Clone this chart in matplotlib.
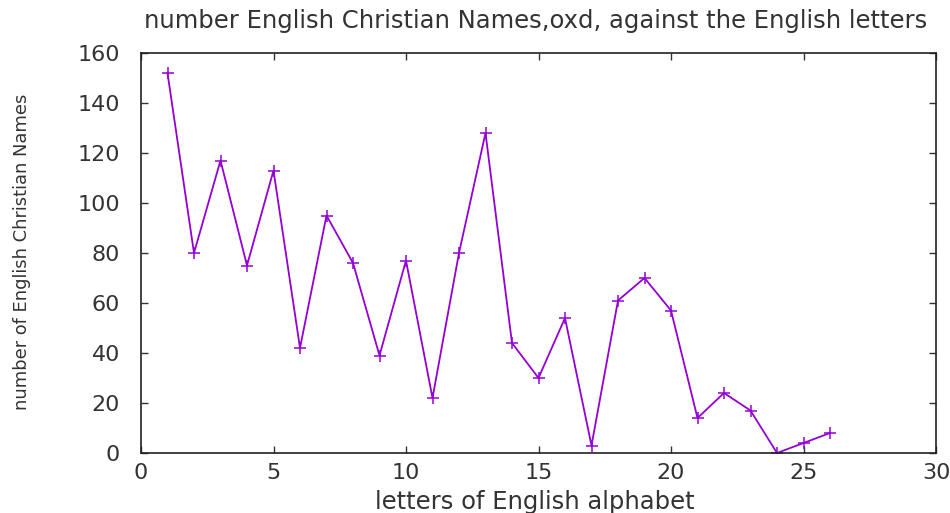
import matplotlib
matplotlib.use("Agg")
import matplotlib.pyplot as plt

letters = list(range(1, 27))
counts = [152, 80, 117, 75, 113, 42, 95, 76, 39, 77, 22, 80, 128,
          44, 30, 54, 3, 61, 70, 57, 14, 24, 17, 0, 4, 8]
x_ticks = [0, 5, 10, 15, 20, 25, 30]
y_ticks = [0, 20, 40, 60, 80, 100, 120, 140, 160]
title = "number English Christian Names,oxd, against the English letters"
xlabel = "letters of English alphabet"
ylabel = "number of English Christian Names"

plt.rcParams['font.family'] = ['DejaVu Sans']
fig = plt.figure(figsize=(9.5, 5.13), dpi=100)
ax = fig.add_axes([141/950, 60/513, (936-141)/950, (453-53)/513])

ax.plot(letters, counts, color='#9400d3', lw=1.3, marker='+', ms=8, mew=1.1)

ax.set_xlim(0, 30)
ax.set_ylim(0, 160)
ax.set_xticks(x_ticks)
ax.set_yticks(y_ticks)
ax.tick_params(direction='in', length=5, width=1, top=True, right=True,
               labelsize=16, colors='#333333')
ax.tick_params(axis='y', pad=15)
ax.tick_params(axis='x', pad=7)
for s in ax.spines.values():
    s.set_linewidth(1.2)
    s.set_color('#222222')

fig.text(0.5 * (137 + 935) / 950, 1 - 21/513, title, ha='center', va='center',
         fontsize=17.5, color='#333333')
fig.text((373 + 697) / 2 / 950, 1 - 502/513, xlabel, ha='center', va='center',
         fontsize=17.5, color='#333333')
fig.text(22/950, 1 - 252/513, ylabel, ha='center', va='center', rotation=90,
         fontsize=12.9, color='#333333')

fig.savefig("out.png", dpi=100)
